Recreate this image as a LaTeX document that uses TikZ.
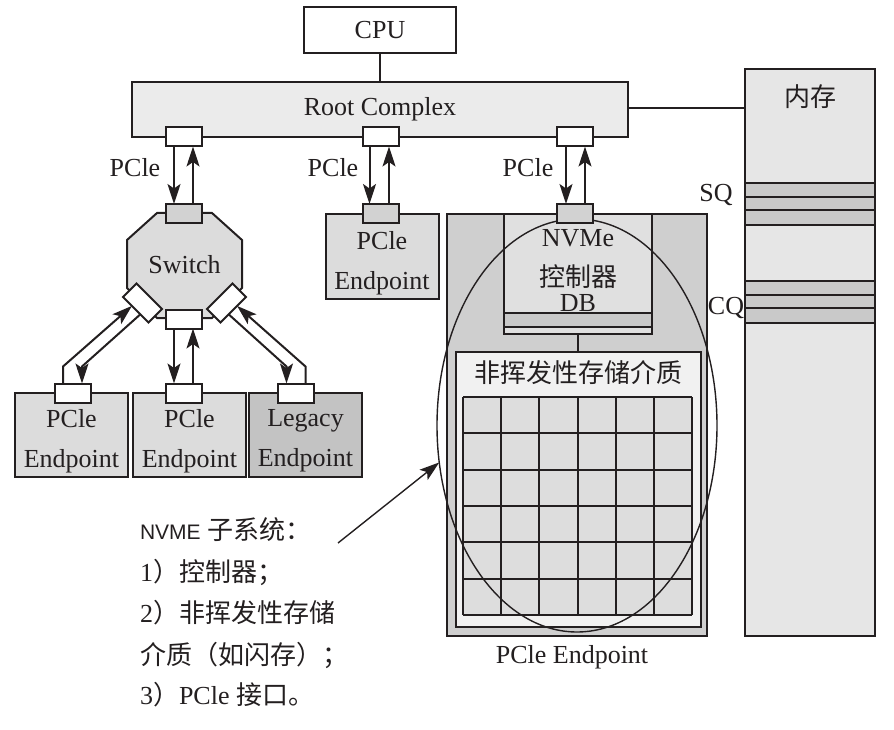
\documentclass[tikz,border=0pt]{standalone}
\usepackage{fontspec}
\setmainfont{Liberation Serif}
\newfontfamily\cjk{Noto Sans CJK SC}
\newfontfamily\sansf{Liberation Sans}
\usetikzlibrary{arrows.meta,calc,shapes.geometric}
\definecolor{ink}{HTML}{231F20}
\definecolor{rcfill}{HTML}{EBEBEB}
\definecolor{epfill}{HTML}{DCDCDC}
\definecolor{legfill}{HTML}{C3C3C3}
\definecolor{portgray}{HTML}{D2D2D2}
\definecolor{outerfill}{HTML}{CFCFCF}
\definecolor{ctrlfill}{HTML}{E0E0E0}
\definecolor{storfill}{HTML}{F1F1F1}
\definecolor{cellfill}{HTML}{DDDDDD}
\definecolor{memfill}{HTML}{E6E6E6}
\definecolor{stripe}{HTML}{C9C9C9}
\begin{document}
\begin{tikzpicture}[x=1pt,y=-1pt,
  every node/.style={font=\fontsize{26}{40}\selectfont, text=ink, inner sep=0pt, outer sep=0pt},
  box/.style={draw=ink, line width=2pt},
  port/.style={draw=ink, line width=2pt, minimum width=36pt, minimum height=19pt, inner sep=0pt},
  link/.style={draw=ink, line width=2pt},
  arr/.style={draw=ink, line width=2pt, -{Stealth[length=20pt,width=13pt,inset=4.5pt]}},
  gridline/.style={draw=ink, line width=2pt},
  stripebox/.style={draw=ink, line width=2pt, fill=stripe},
  epbox/.style={box, fill=epfill, minimum width=113pt, minimum height=84pt}
]
\useasboundingbox (0,0) rectangle (894,730);

% CPU and Root Complex
\node[box, fill=white, minimum width=152pt, minimum height=46pt] (cpu) at (380,30) {CPU};
\node[box, fill=rcfill, minimum width=496pt, minimum height=55pt] (rc) at (380,109.5) {Root Complex};
\draw[link] (cpu) -- (rc);

% Memory
\node[box, fill=memfill, minimum width=130pt, minimum height=567pt] (mem) at (810,352.5) {};
\node (memlbl) at (810,97) {\cjk 内存};
\draw[link] (rc.east |- 0,108) -- (mem.west |- 0,108);
\draw[stripebox] (745,183) rectangle (875,197);
\draw[stripebox] (745,197) rectangle (875,210);
\draw[stripebox] (745,210) rectangle (875,225);
\draw[stripebox] (745,281) rectangle (875,295);
\draw[stripebox] (745,295) rectangle (875,308);
\draw[stripebox] (745,308) rectangle (875,323);
\node (sq) at (716,195) {SQ};
\node (cq) at (726,308) {CQ};

% NVMe endpoint
\node[box, fill=outerfill, minimum width=260pt, minimum height=422pt] (outer) at (577,425) {};
\node[box, fill=ctrlfill, minimum width=148pt, minimum height=120pt] (ctrl) at (578,274) {};
\draw[stripebox] (ctrl.west |- 0,313) rectangle (ctrl.east |- 0,327);
\node (nvme) at (578,238) {NVMe};
\node (kzq) at (578,277) {\cjk 控制器};
\node (db) at (578,303) {DB};
\node[box, fill=storfill, minimum width=245pt, minimum height=275pt] (stor) at (578.5,489.5) {};
\draw[link] (ctrl.south) -- (ctrl.south |- stor.north);
\node (storlbl) at (578,373) {\cjk 非挥发性存储介质};
\fill[cellfill] (463,397) rectangle (692,615);
\foreach \i in {0,...,6} {
  \draw[gridline] ({463+\i*229/6},397) -- ({463+\i*229/6},615);
  \draw[gridline] (463,{397+\i*218/6}) -- (692,{397+\i*218/6});
}
\node (outlbl) at (572,657) {PCle Endpoint};
\node[draw=ink, line width=1.4pt, ellipse, minimum width=280pt, minimum height=413pt] (ell) at (577,425.5) {};
\node[port, fill=portgray] (nvp) at (575,213.5) {};

% Middle endpoint
\node[epbox] (epT) at (382,256.5) {};
\node[align=center] (epTt) at (382,263) {PCle\\Endpoint};
\node[port, fill=portgray] (epTp) at (380.5,213.5) {};

% Switch
\draw[box, fill=epfill] (157,213) -- (212,213) -- (242,240) -- (242,288) -- (212,318) -- (157,318) -- (127,288) -- (127,240) -- cycle;
\node (sw) at (184.5,265) {Switch};
\node[port, fill=portgray] (swT) at (184,213.5) {};
\node[port, fill=white] (swB) at (184,319) {};
\node[port, fill=white, rotate=-45] (swL) at (142.5,303) {};
\node[port, fill=white, rotate=45] (swR) at (226.5,303) {};

% Bottom endpoints
\node[epbox] (epL) at (71.5,435) {};
\node[epbox] (epM) at (189.5,435) {};
\node[epbox, fill=legfill] (epR) at (305.5,435) {};
\node[align=center] (epLt) at (71.5,441) {PCle\\Endpoint};
\node[align=center] (epMt) at (189.5,441) {PCle\\Endpoint};
\node[align=center] (epRt) at (305.5,441) {Legacy\\Endpoint};
\node[port, fill=white] (epLp) at (73,393) {};
\node[port, fill=white] (epMp) at (184,393) {};
\node[port, fill=white] (epRp) at (295.5,393) {};

% Root complex ports
\node[port, fill=white] (rcL) at (184,137) {};
\node[port, fill=white] (rcM) at (380.5,137) {};
\node[port, fill=white] (rcR) at (575,137) {};

% PCIe links from root complex
\draw[arr] ([xshift=-10pt]rcL.south) -- ([xshift=-10pt]swT.north);
\draw[arr] ([xshift=9pt]swT.north) -- ([xshift=9pt]rcL.south);
\draw[arr] ([xshift=-11pt]rcM.south) -- ([xshift=-11pt]epTp.north);
\draw[arr] ([xshift=8.5pt]epTp.north) -- ([xshift=8.5pt]rcM.south);
\draw[arr] ([xshift=-9pt]rcR.south) -- ([xshift=-9pt]nvp.north);
\draw[arr] ([xshift=10pt]nvp.north) -- ([xshift=10pt]rcR.south);
\node (pl1) at (135,168) {PCle};
\node (pl2) at (333,168) {PCle};
\node (pl3) at (528,168) {PCle};

% Switch to endpoints
\draw[arr] ([xshift=-10pt]swB.south) -- ([xshift=-10pt]epMp.north);
\draw[arr] ([xshift=9pt]epMp.north) -- ([xshift=9pt]swB.south);
\draw[arr] ([xshift=-10pt]epLp.north) -- ++(0,-17) -- ($(swL.south west)!0.35!(swL.south east)$);
\draw[arr] ($(swL.south west)!0.68!(swL.south east)$) -- ($([xshift=9pt]epLp.north)+(0,-17)$) -- ([xshift=9pt]epLp.north);
\draw[arr] ($(swR.south west)!0.32!(swR.south east)$) -- ($([xshift=-9pt]epRp.north)+(0,-17)$) -- ([xshift=-9pt]epRp.north);
\draw[arr] ([xshift=10pt]epRp.north) -- ++(0,-17) -- ($(swR.south west)!0.65!(swR.south east)$);

% Annotation
\node[anchor=west] (t1) at (140,530) {{\sansf\fontsize{21}{30}\selectfont NVME} {\cjk 子系统：}};
\node[anchor=west] (t2) at (140,572) {1{\cjk ）控制器；}};
\node[anchor=west] (t3) at (140,613) {2{\cjk ）非挥发性存储}};
\node[anchor=west] (t4) at (140,655) {{\cjk 介质（如闪存）；}};
\node[anchor=west] (t5) at (140,695) {3{\cjk ）}PCle {\cjk 接口。}};
\coordinate (annot) at (338,543);
\draw[arr, line width=1.4pt] (annot) -- (ell.195);
\end{tikzpicture}
\end{document}
